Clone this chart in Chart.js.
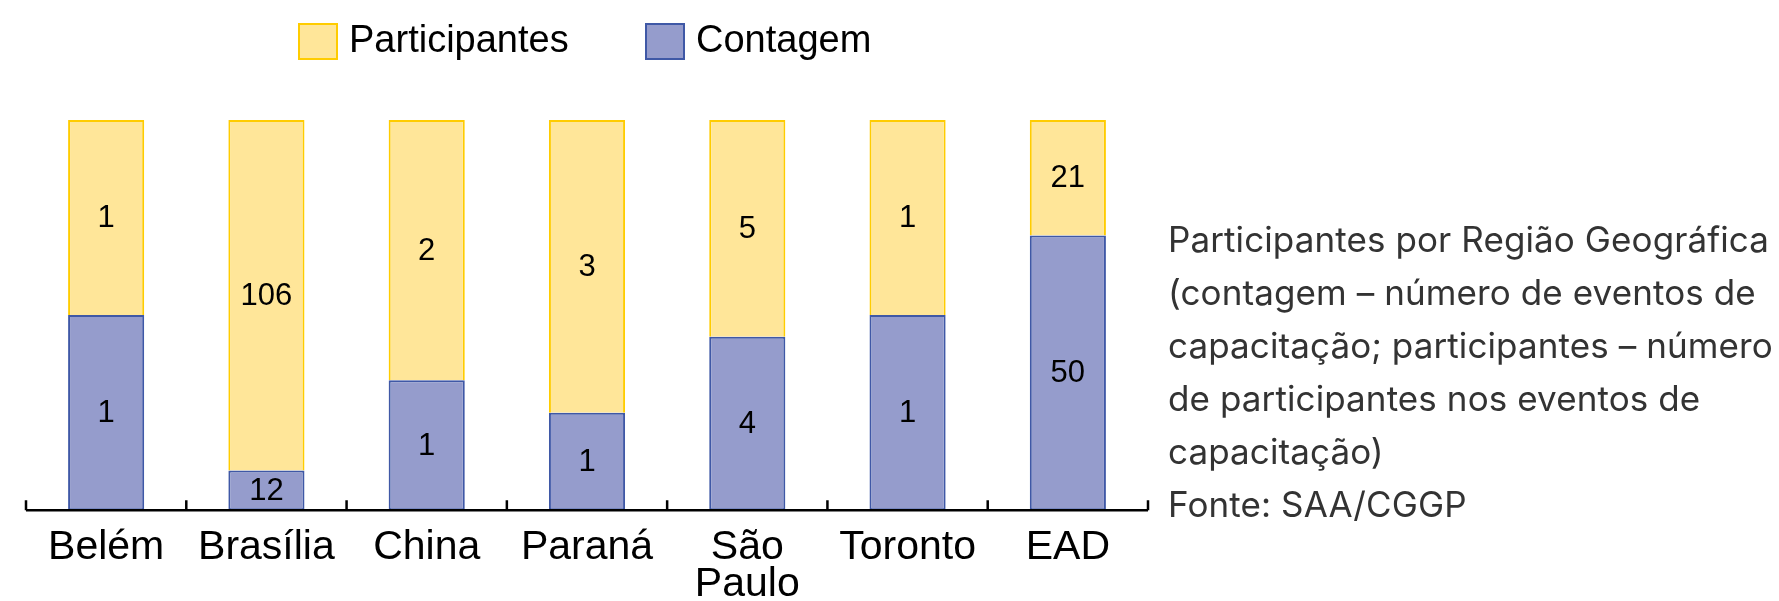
<!DOCTYPE html>
<html>
<head>
<meta charset="utf-8">
<script src="https://cdn.jsdelivr.net/npm/chart.js@4/dist/chart.umd.min.js"></script>
<style>
  html, body { margin: 0; padding: 0; background: #fff; }
  #wrap { position: relative; width: 1779px; height: 601px; }
  #note {
    position: absolute; left: 1168px; top: 213px; width: 611px;
    font-family: Inter, "Noto Sans", sans-serif; font-size: 35px; line-height: 53px;
    letter-spacing: 0.1px; color: #333; white-space: nowrap;
  }
</style>
</head>
<body>
<div id="wrap">
  <canvas id="chart" width="1779" height="601"></canvas>
  <div id="note">Participantes por Região Geográfica<br>(contagem – número de eventos de<br>capacitação; participantes – número<br>de participantes nos eventos de<br>capacitação)<br>Fonte: SAA/CGGP</div>
</div>
<script>
// categories and raw values
const regions = ['Belém', 'Brasília', 'China', 'Paraná', ['São', 'Paulo'], 'Toronto', 'EAD'];
const contagem = [1, 12, 1, 1, 4, 1, 50];
const participantes = [1, 106, 2, 3, 5, 1, 21];

// bars are shown as share of each column (100% stacked)
const totals = contagem.map((c, i) => c + participantes[i]);
const contagemPct = contagem.map((c, i) => c / totals[i] * 100);
const participantesPct = participantes.map((p, i) => p / totals[i] * 100);

const yellowFill = '#FFE699';
const yellowLine = '#FFCC00';
const blueFill = '#959CCC';
const blueLine = '#3F58A6';

// Draws the raw counts in the middle of each bar segment
const countLabels = {
    id: 'countLabels',
    afterDatasetsDraw(chart) {
        const ctx = chart.ctx;
        ctx.save();
        ctx.font = '31px "Liberation Sans", Arial, sans-serif';
        ctx.fillStyle = '#000';
        ctx.textAlign = 'center';
        ctx.textBaseline = 'middle';
        chart.data.datasets.forEach((ds, di) => {
            const meta = chart.getDatasetMeta(di);
            meta.data.forEach((bar, i) => {
                const y = (bar.y + bar.base) / 2;
                ctx.fillText(String(ds.counts[i]), bar.x, y + 1);
            });
        });
        ctx.restore();
    }
};

// Axis line with small upward ticks between categories
const axisTicks = {
    id: 'axisTicks',
    afterDraw(chart) {
        const ctx = chart.ctx;
        const xs = chart.scales.x;
        const n = regions.length;
        const y = chart.chartArea.bottom;
        ctx.save();
        ctx.strokeStyle = '#000';
        ctx.lineWidth = 2.5;
        ctx.beginPath();
        ctx.moveTo(xs.left, y);
        ctx.lineTo(xs.right, y);
        for (let i = 0; i <= n; i++) {
            const x = xs.left + i * (xs.right - xs.left) / n;
            ctx.moveTo(x, y);
            ctx.lineTo(x, y - 10);
        }
        ctx.stroke();
        ctx.restore();
    }
};

// Legend drawn above the plot
const topLegend = {
    id: 'topLegend',
    afterDraw(chart) {
        const ctx = chart.ctx;
        const items = [
            { text: 'Participantes', fill: yellowFill, line: yellowLine, x: 299 },
            { text: 'Contagem', fill: blueFill, line: blueLine, x: 646 }
        ];
        ctx.save();
        ctx.font = '38px "Liberation Sans", Arial, sans-serif';
        ctx.textBaseline = 'middle';
        items.forEach(it => {
            ctx.fillStyle = it.fill;
            ctx.strokeStyle = it.line;
            ctx.lineWidth = 2;
            ctx.fillRect(it.x, 24, 38, 35);
            ctx.strokeRect(it.x, 24, 38, 35);
            ctx.fillStyle = '#000';
            ctx.fillText(it.text, it.x + 50, 42);
        });
        ctx.restore();
    }
};

new Chart(document.getElementById('chart'), {
    type: 'bar',
    data: {
        labels: regions,
        datasets: [
            {
                label: 'Contagem',
                data: contagemPct,
                counts: contagem,
                backgroundColor: blueFill,
                borderColor: blueLine,
                borderWidth: 2,
                borderSkipped: false
            },
            {
                label: 'Participantes',
                data: participantesPct,
                counts: participantes,
                backgroundColor: yellowFill,
                borderColor: yellowLine,
                borderWidth: 2,
                borderSkipped: 'bottom'
            }
        ]
    },
    options: {
        responsive: false,
        animation: false,
        layout: { padding: { left: 26, right: 631, top: 120, bottom: -21 } },
        plugins: {
            legend: { display: false },
            tooltip: { enabled: false }
        },
        datasets: { bar: { categoryPercentage: 1, barPercentage: 0.475 } },
        scales: {
            x: {
                stacked: true,
                grid: { display: false, drawTicks: false },
                border: { display: false },
                ticks: {
                    autoSkip: false,
                    maxRotation: 0,
                    padding: 19,
                    color: '#000',
                    font: { family: '"Liberation Sans", Arial, sans-serif', size: 41, lineHeight: 0.9 }
                }
            },
            y: {
                stacked: true,
                display: false,
                min: 0,
                max: 100
            }
        }
    },
    plugins: [countLabels, axisTicks, topLegend]
});
</script>
</body>
</html>
